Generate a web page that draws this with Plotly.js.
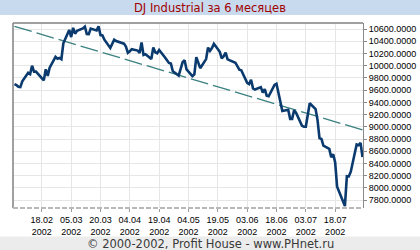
<!DOCTYPE html>
<html>
<head>
<meta charset="utf-8">
<script src="https://cdn.plot.ly/plotly-3.0.1.min.js"></script>
<style>html,body{margin:0;padding:0;background:#fff;}#chart{width:420px;height:250px;}</style>
</head>
<body>
<div id="chart"></div>
<script>
const dates = [
"2002-02-04","2002-02-05","2002-02-06","2002-02-07","2002-02-08",
"2002-02-11","2002-02-12","2002-02-13","2002-02-14","2002-02-15",
"2002-02-19","2002-02-20","2002-02-21","2002-02-22",
"2002-02-25","2002-02-26","2002-02-27","2002-02-28","2002-03-01",
"2002-03-04","2002-03-05","2002-03-06","2002-03-07","2002-03-08",
"2002-03-11","2002-03-12","2002-03-13","2002-03-14","2002-03-15",
"2002-03-18","2002-03-19","2002-03-20","2002-03-21","2002-03-22",
"2002-03-25","2002-03-26","2002-03-27","2002-03-28",
"2002-04-01","2002-04-02","2002-04-03","2002-04-04","2002-04-05",
"2002-04-08","2002-04-09","2002-04-10","2002-04-11","2002-04-12",
"2002-04-15","2002-04-16","2002-04-17","2002-04-18","2002-04-19",
"2002-04-22","2002-04-23","2002-04-24","2002-04-25","2002-04-26",
"2002-04-29","2002-04-30","2002-05-01","2002-05-02","2002-05-03",
"2002-05-06","2002-05-07","2002-05-08","2002-05-09","2002-05-10",
"2002-05-13","2002-05-14","2002-05-15","2002-05-16","2002-05-17",
"2002-05-20","2002-05-21","2002-05-22","2002-05-23","2002-05-24",
"2002-05-28","2002-05-29","2002-05-30","2002-05-31",
"2002-06-03","2002-06-04","2002-06-05","2002-06-06","2002-06-07",
"2002-06-10","2002-06-11","2002-06-12","2002-06-13","2002-06-14",
"2002-06-17","2002-06-18","2002-06-19","2002-06-20","2002-06-21",
"2002-06-24","2002-06-25","2002-06-26","2002-06-27","2002-06-28",
"2002-07-01","2002-07-02","2002-07-03","2002-07-05",
"2002-07-08","2002-07-09","2002-07-10","2002-07-11","2002-07-12",
"2002-07-15","2002-07-16","2002-07-17","2002-07-18","2002-07-19",
"2002-07-22","2002-07-23","2002-07-24","2002-07-25","2002-07-26",
"2002-07-29","2002-07-30","2002-07-31","2002-08-01"
];
const closes = [
9700,9685,9655,9650,9744,
9884,9863,10000,9903,9904,
9760,9941,9834,9968,
10145,10115,10127,10106,10368,
10586,10470,10620,10525,10572,
10611,10640,10520,10517,10608,
10577,10645,10501,10497,10427,
10290,10353,10426,10404,
10362,10313,10210,10235,10271,
10249,10208,10381,10176,10190,
10110,10301,10220,10205,10257,
10136,10089,10045,10035,9910,
9840,9946,10059,10091,9939,
9830,9860,10141,10037,9960,
10109,10298,10243,10289,10360,
10229,10120,10157,10216,10105,
10050,9982,9935,9925,
9720,9700,9770,9630,9610,
9650,9560,9617,9510,9500,
9687,9706,9540,9431,9260,
9280,9130,9130,9269,9230,
9020,9000,9000,9385,
9290,9110,8814,8801,8690,
8639,8500,8550,8420,8019,
7784,7702,8191,8187,8264,
8712,8700,8736,8506
];
const trendDates = ["2002-02-04","2002-08-01"];
const trendValues = [10645,8950];
const xRange = ["2002-02-03 06:00","2002-08-01 06:00"];
const yRange = [7670,10700];
const chartTitle = "DJ Industrial за 6 месяцев";
const footerText = "© 2000-2002, Profit House - www.PHnet.ru";

const traces = [
  {x: trendDates, y: trendValues, type: "scatter", mode: "lines",
   line: {color: "#3a8080", width: 1.3, dash: "18px,5px"}, hoverinfo: "skip"},
  {x: dates, y: closes, type: "scatter", mode: "lines",
   line: {color: "#0a3a6e", width: 2.6}}
];

const FIG_H = 250, PLOT_TOP = 23, PLOT_BOTTOM = 208, PLOT_H = PLOT_BOTTOM - PLOT_TOP;
const py = p => (PLOT_BOTTOM - p) / PLOT_H;

const layout = {
  width: 420, height: 250,
  margin: {l: 13, r: 57, t: 23, b: 42, pad: 0},
  paper_bgcolor: "#ffffff", plot_bgcolor: "#ffffff",
  showlegend: false,
  title: {text: chartTitle, x: 0.5, xanchor: "center", y: 1 - 8/FIG_H, yanchor: "middle",
          font: {family: "DejaVu Sans", size: 11.5, color: "#a00000"}},
  xaxis: {type: "date", range: xRange, showgrid: true, gridcolor: "#e6e6e6", gridwidth: 1,
          zeroline: false, showline: false, ticks: "outside", ticklen: 3, tickcolor: "#9a9a9a",
          tick0: "2002-02-18", dtick: 15*86400000, tickformat: "%d.%m<br>%Y",
          tickfont: {family: "Liberation Sans", size: 9, color: "#000"}},
  yaxis: {range: yRange, side: "right", showgrid: true, gridcolor: "#e6e6e6", gridwidth: 1,
          zeroline: false, showline: true, linecolor: "#8a8a8a", linewidth: 1,
          ticks: "outside", ticklen: 3, tickcolor: "#8a8a8a",
          tick0: 7800, dtick: 200, tickformat: ".4f",
          tickfont: {family: "Liberation Sans", size: 9, color: "#000"}},
  shapes: [
    {type: "rect", xref: "paper", yref: "paper", x0: -1, x1: 2, y0: py(15), y1: py(-2),
     fillcolor: "#c8daee", line: {width: 0}, layer: "below"},
    {type: "rect", xref: "paper", yref: "paper", x0: -1, x1: 2, y0: py(252), y1: py(236.5),
     fillcolor: "#ececec", line: {width: 0}, layer: "below"},
    {type: "line", xref: "paper", yref: "paper", x0: 0, x1: 1, y0: 1, y1: 1,
     line: {color: "#808080", width: 1.5}},
    {type: "line", xref: "paper", yref: "paper", x0: 0, x1: 0, y0: 0, y1: 1,
     line: {color: "#808080", width: 1.5}},
    {type: "line", xref: "paper", yref: "paper", x0: 0, x1: 1, y0: 0, y1: 0,
     line: {color: "#b8b8b8", width: 2, dash: "5px,2px"}}
  ],
  annotations: [
    {text: footerText, xref: "paper", yref: "paper", x: (210-13)/350, y: py(243.5),
     xanchor: "center", yanchor: "middle", showarrow: false,
     font: {family: "DejaVu Sans", size: 11.5, color: "#3a3a3a"}}
  ]
};

Plotly.newPlot("chart", traces, layout, {displayModeBar: false, staticPlot: true});
</script>
</body>
</html>
